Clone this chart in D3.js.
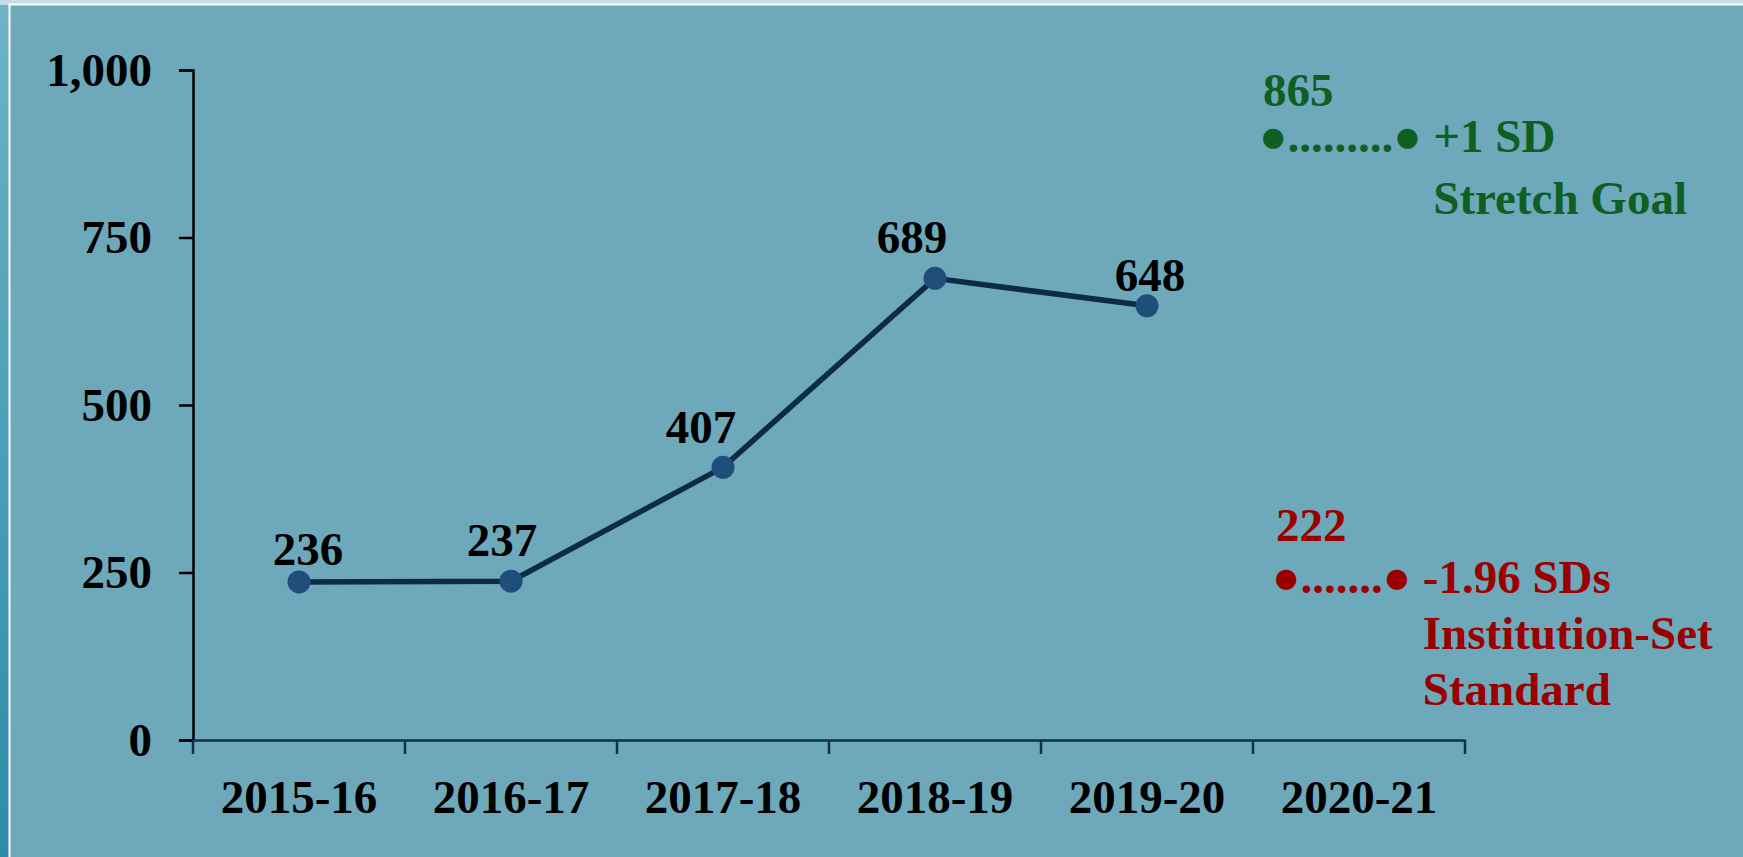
<!DOCTYPE html>
<html>
<head>
<meta charset="utf-8">
<script src="https://cdn.jsdelivr.net/npm/d3@7"></script>
<style>
  body { margin: 0; overflow: hidden; background: #6da9bb; }
  svg { display: block; }
</style>
</head>
<body>
<div id="chart"></div>
<script>
// Chart data
const years = ['2015-16', '2016-17', '2017-18', '2018-19', '2019-20', '2020-21'];
const counts = [236, 237, 407, 689, 648];
const yTicks = [0, 250, 500, 750, 1000];

// Goal / standard annotations
const stretchGoal = 865;
const stretchLabel = ['+1 SD', 'Stretch Goal'];
const standardValue = 222;
const standardLabel = ['-1.96 SDs', 'Institution-Set', 'Standard'];

// Label nudges (layout only, pixels)
const labelNudge = [[9, -17], [-9, -25], [-22, -24], [-23, -25], [3, -15]];

const width = 1743;
const height = 857;
const font = '"Liberation Serif", "Times New Roman", serif';
const green = '#0f5f23';
const red = '#9b0000';

const svg = d3.select('#chart')
    .append('svg')
    .attr('width', width)
    .attr('height', height);

// Slide background
const defs = svg.append('defs');
const grad = defs.append('linearGradient')
    .attr('id', 'side')
    .attr('x1', 0).attr('y1', 0).attr('x2', 0).attr('y2', 1);
grad.append('stop').attr('offset', '0%').attr('stop-color', '#6fb3c6');
grad.append('stop').attr('offset', '100%').attr('stop-color', '#2c8ca8');

svg.append('rect')
    .attr('width', width).attr('height', height)
    .attr('fill', 'url(#side)');
svg.append('rect')
    .attr('width', width).attr('height', 5)
    .attr('fill', '#c3dde6');

// Chart area with white border
svg.append('rect')
    .attr('x', 9.5).attr('y', 4.5)
    .attr('width', width).attr('height', height)
    .attr('fill', '#6da9bb')
    .attr('stroke', '#ffffff')
    .attr('stroke-width', 2);

// Scales
const x = d3.scaleBand()
    .domain(years)
    .range([193, 1465])
    .padding(0);

const y = d3.scaleLinear()
    .domain([0, 1000])
    .range([740, 70]);

const cx = d => x(d) + x.bandwidth() / 2;

// Y axis
const yAxis = svg.append('g')
    .attr('transform', `translate(${x.range()[0]},0)`)
    .call(d3.axisLeft(y)
        .tickValues(yTicks)
        .tickFormat(d3.format(','))
        .tickSize(14)
        .tickPadding(27));
yAxis.select('.domain').attr('stroke', '#000').attr('stroke-width', 2.5);
yAxis.selectAll('.tick line').attr('stroke', '#000').attr('stroke-width', 2.5);
yAxis.selectAll('.tick text')
    .attr('fill', '#000')
    .style('font-family', font)
    .style('font-weight', 'bold')
    .style('font-size', '47px');

// X axis
const xAxis = svg.append('g')
    .attr('transform', `translate(0,${y(0)})`)
    .call(d3.axisBottom(x).tickSize(0).tickPadding(40));
xAxis.select('.domain').attr('stroke', '#10304a').attr('stroke-width', 2.5);
xAxis.selectAll('.tick text')
    .attr('fill', '#000')
    .style('font-family', font)
    .style('font-weight', 'bold')
    .style('font-size', '47px');

// Category separators on x axis
const edges = years.map(d => x(d)).concat([x.range()[1]]);
svg.append('g')
    .selectAll('line')
    .data(edges)
    .enter()
    .append('line')
    .attr('x1', d => d).attr('x2', d => d)
    .attr('y1', y(0)).attr('y2', y(0) + 14)
    .attr('stroke', '#10304a')
    .attr('stroke-width', 2.5);

// Trend line
const points = counts.map((v, i) => ({ year: years[i], value: v }));
const line = d3.line()
    .x(d => cx(d.year))
    .y(d => y(d.value));

svg.append('path')
    .datum(points)
    .attr('d', line)
    .attr('fill', 'none')
    .attr('stroke', '#0d2b45')
    .attr('stroke-width', 5.5);

svg.append('g')
    .selectAll('circle')
    .data(points)
    .enter()
    .append('circle')
    .attr('cx', d => cx(d.year))
    .attr('cy', d => y(d.value))
    .attr('r', 11.5)
    .attr('fill', '#1f4e7a');

// Data labels
svg.append('g')
    .selectAll('text')
    .data(points)
    .enter()
    .append('text')
    .attr('x', (d, i) => cx(d.year) + labelNudge[i][0])
    .attr('y', (d, i) => y(d.value) + labelNudge[i][1])
    .attr('text-anchor', 'middle')
    .attr('fill', '#000')
    .style('font-family', font)
    .style('font-weight', 'bold')
    .style('font-size', '47px')
    .text(d => d3.format(',')(d.value));

// Annotation blocks in the 2020-21 column
function annotate(value, dots, lines, color, left, baseline, valueGap, lineGap) {
    const g = svg.append('g')
        .attr('fill', color)
        .style('font-family', font)
        .style('font-weight', 'bold')
        .style('font-size', '47px');
    g.append('text')
        .attr('x', left + 4)
        .attr('y', baseline - valueGap)
        .text(value);
    const row = g.append('text')
        .attr('x', left)
        .attr('y', baseline)
        .text('\u25CF' + '.'.repeat(dots) + '\u25CF ' + lines[0]);
    const probe = g.append('text').style('visibility', 'hidden').text(lines[0]);
    const indent = left + row.node().getComputedTextLength() - probe.node().getComputedTextLength();
    probe.remove();
    lines.slice(1).forEach((t, i) => {
        g.append('text')
            .attr('x', indent)
            .attr('y', baseline + lineGap * (i + 1))
            .text(t);
    });
}

const colLeft = x('2020-21');
annotate(stretchGoal, 9, stretchLabel, green, colLeft + 6, y(stretchGoal) - 8, 46, 62);
annotate(standardValue, 7, standardLabel, red, colLeft + 19, y(standardValue) + 2, 52, 56);
</script>
</body>
</html>
